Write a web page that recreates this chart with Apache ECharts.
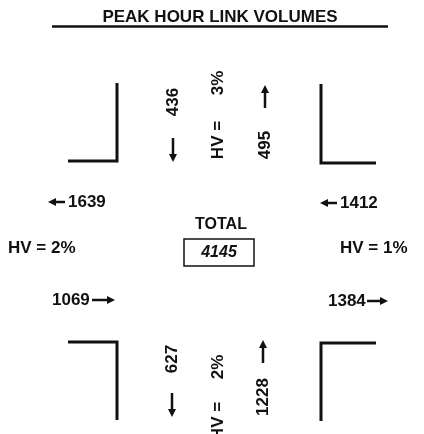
<!DOCTYPE html>
<html>
<head>
<meta charset="utf-8">
<script src="https://cdn.jsdelivr.net/npm/echarts@6/dist/echarts.min.js"></script>
<style>
html,body{margin:0;padding:0;background:#fff;}
#chart{width:424px;height:434px;}
</style>
</head>
<body>
<div id="chart"></div>
<script>
// ---- data ----
const titleText = 'PEAK HOUR LINK VOLUMES';
const northVolumes = [436, 495];      // southbound (down), northbound (up)
const southVolumes = [627, 1228];     // southbound (down), northbound (up)
const westVolumes = [1639, 1069];     // westbound (left), eastbound (right)
const eastVolumes = [1412, 1384];     // westbound (left), eastbound (right)
const hvPercents = [3, 2, 1, 2];      // north, west, east, south
const totalLabel = 'TOTAL';
const totalVolume = 4145;

// ---- drawing helpers ----
const FONT = 'Liberation Sans, Arial, sans-serif';
const INK = '#111';
function txt(s, x, y, opt) {
  opt = opt || {};
  const el = {
    type: 'text', x: x, y: y,
    style: {
      text: String(s), x: 0, y: 0,
      fill: INK,
      font: (opt.italic ? 'italic ' : '') + 'bold ' + (opt.size || 17) + 'px ' + FONT,
      align: opt.align || 'center', verticalAlign: 'middle'
    }
  };
  if (opt.rot) el.rotation = opt.rot;
  return el;
}
function arrow(x1, y1, x2, y2) {
  const dx = x2 - x1, dy = y2 - y1, L = Math.sqrt(dx * dx + dy * dy);
  const ux = dx / L, uy = dy / L, hl = 8, hw = 4;
  const bx = x2 - ux * hl, by = y2 - uy * hl;
  return [
    { type: 'line', shape: { x1: x1, y1: y1, x2: bx + ux, y2: by + uy }, style: { stroke: INK, lineWidth: 2.5 } },
    { type: 'polygon', shape: { points: [[x2, y2], [bx - uy * hw, by + ux * hw], [bx + uy * hw, by - ux * hw]] }, style: { fill: INK } }
  ];
}
function corner(points) {
  return { type: 'polyline', shape: { points: points }, style: { stroke: INK, lineWidth: 3, fill: null, lineJoin: 'miter' } };
}
const V = Math.PI / 2;

const shapes = [], flat = [], vertical = [];
// title
flat.push(txt(titleText, 220, 17));
shapes.push({ type: 'line', shape: { x1: 52, y1: 26.5, x2: 388, y2: 26.5 }, style: { stroke: INK, lineWidth: 2.5 } });

// curb corners
shapes.push(corner([[68, 161], [117, 161], [117, 83]]));
shapes.push(corner([[321, 84], [321, 163], [376, 163]]));
shapes.push(corner([[68, 342], [117, 342], [117, 420]]));
shapes.push(corner([[376, 343], [321, 343], [321, 421]]));

// north leg
vertical.push(txt(northVolumes[0], 173, 102, { rot: V }));
shapes.push(...arrow(173, 138, 173, 162));
vertical.push(txt(hvPercents[0] + '%', 218, 83, { rot: V }));
vertical.push(txt('HV =', 218, 140, { rot: V }));
shapes.push(...arrow(265, 108, 265, 85));
vertical.push(txt(northVolumes[1], 265, 145, { rot: V }));

// south leg
vertical.push(txt(southVolumes[0], 172, 359, { rot: V }));
shapes.push(...arrow(172, 393, 172, 417));
vertical.push(txt(hvPercents[3] + '%', 218, 367, { rot: V }));
vertical.push(txt('HV =', 218, 421, { rot: V }));
shapes.push(...arrow(263, 363, 263, 340));
vertical.push(txt(southVolumes[1], 263, 397, { rot: V }));

// west leg
shapes.push(...arrow(65, 202, 48, 202));
flat.push(txt(westVolumes[0], 68, 202, { align: 'left' }));
flat.push(txt('HV = ' + hvPercents[1] + '%', 8, 248, { align: 'left' }));
flat.push(txt(westVolumes[1], 52, 300, { align: 'left' }));
shapes.push(...arrow(92, 300, 115, 300));

// east leg
shapes.push(...arrow(337, 203, 320, 203));
flat.push(txt(eastVolumes[0], 340, 203, { align: 'left' }));
flat.push(txt('HV = ' + hvPercents[2] + '%', 340, 248, { align: 'left' }));
flat.push(txt(eastVolumes[1], 328, 301, { align: 'left' }));
shapes.push(...arrow(367, 301, 388, 301));

// total
shapes.push({ type: 'rect', shape: { x: 184, y: 239, width: 70, height: 27 }, style: { fill: '#fff', stroke: INK, lineWidth: 1.5 } });
flat.push(txt(totalLabel, 221, 225, { size: 16 }));
flat.push(txt(totalVolume, 219, 253, { italic: true, size: 16 }));

const chart = echarts.init(document.getElementById('chart'), null, { renderer: 'canvas' });
chart.setOption({
  backgroundColor: '#fff',
  animation: false,
  graphic: { elements: shapes.concat(flat, vertical) }
});
</script>
</body>
</html>
